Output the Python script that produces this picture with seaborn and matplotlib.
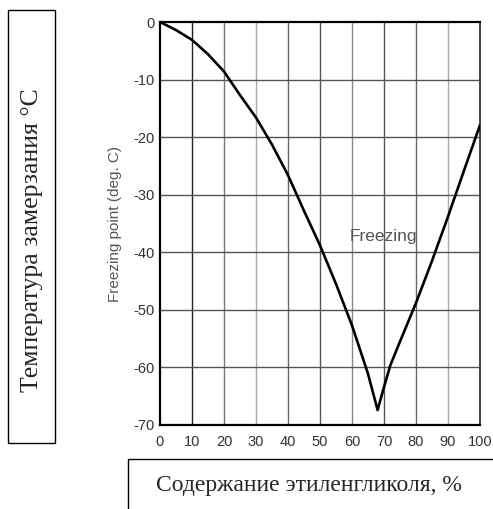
import matplotlib
matplotlib.use("Agg")
import matplotlib.pyplot as plt
import seaborn as sns
import pandas as pd
from matplotlib.patches import Rectangle

# Data
concentration = [0, 5, 10, 15, 20, 25, 30, 35, 40, 45, 50, 55, 60, 65, 68,
                 70, 72, 75, 80, 85, 90, 95, 100]
freezing_point = [0, -1.4, -3.1, -5.6, -8.6, -12.7, -16.6, -21.3, -26.6, -32.8,
                  -38.8, -45.5, -52.7, -61.1, -67.4,
                  -63.4, -59.6, -55.5, -48.8, -41.5, -33.8, -25.8, -17.9]
x_ticks = [0, 10, 20, 30, 40, 50, 60, 70, 80, 90, 100]
y_ticks = [0, -10, -20, -30, -40, -50, -60, -70]
curve_label = "Freezing"
inner_ylabel = "Freezing point (deg. C)"
outer_ylabel = "Температура замерзания °C"
outer_xlabel = "Содержание этиленгликоля, %"

sns.set_theme(style="white")
plt.rcParams['font.family'] = ['Liberation Sans', 'DejaVu Sans']

df = pd.DataFrame({"conc": concentration, "fp": freezing_point})

fig = plt.figure(figsize=(4.93, 5.09), dpi=100)
ax = fig.add_axes([160/493, 1-425/509, 320/493, 403/509])

# grid
vcols = ['#222222', '#777777', '#aaaaaa', '#666666', '#555555',
         '#888888', '#555555', '#666666', '#aaaaaa']
for xv, c in zip(x_ticks[1:-1], vcols):
    ax.axvline(xv, color=c, lw=1.0, zorder=1)
for yv in y_ticks[1:-1]:
    ax.axhline(yv, color='#555555', lw=1.0, zorder=1)

sns.lineplot(data=df, x="conc", y="fp", sort=False, color='black', lw=1.9,
             ax=ax, zorder=3)

ax.set_xlim(0, 100)
ax.set_ylim(-70, 0)
ax.set_xticks(x_ticks)
ax.set_yticks(y_ticks)
ax.set_xticklabels([str(v) for v in x_ticks])
ax.set_yticklabels([str(v) for v in y_ticks])
ax.tick_params(axis='both', length=0, labelsize=10.5, colors='#333333')
ax.tick_params(axis='x', pad=7)
ax.tick_params(axis='y', pad=4)
ax.set_xlabel("")
ax.set_ylabel(inner_ylabel, fontsize=11, color='#555555', labelpad=8)

for s in ['left', 'bottom', 'top']:
    ax.spines[s].set_color('black')
    ax.spines[s].set_linewidth(1.6)
ax.spines['right'].set_color('#444444')
ax.spines['right'].set_linewidth(1.4)

ax.text(59.4, -38.0, curve_label, fontsize=12.5, color='#555555',
        ha='left', va='baseline')

# outer boxes with Russian labels
fig.patches.append(Rectangle((8/493, 1-443/509), 47/493, 433/509,
                             transform=fig.transFigure, fill=False,
                             edgecolor='black', lw=1.0))
fig.text(32/493, 1-240/509, outer_ylabel, rotation=90,
         ha='center', va='center', fontsize=18.5, family=['Liberation Serif'])

fig.patches.append(Rectangle((128/493, -0.05), 1.0, 0.05 + (509-459)/509,
                             transform=fig.transFigure, fill=False,
                             edgecolor='black', lw=1.0))
fig.text(309/493, 1-485/509, outer_xlabel, ha='center', va='center',
         fontsize=17, family=['Liberation Serif'])

fig.savefig("out.png", dpi=100)
